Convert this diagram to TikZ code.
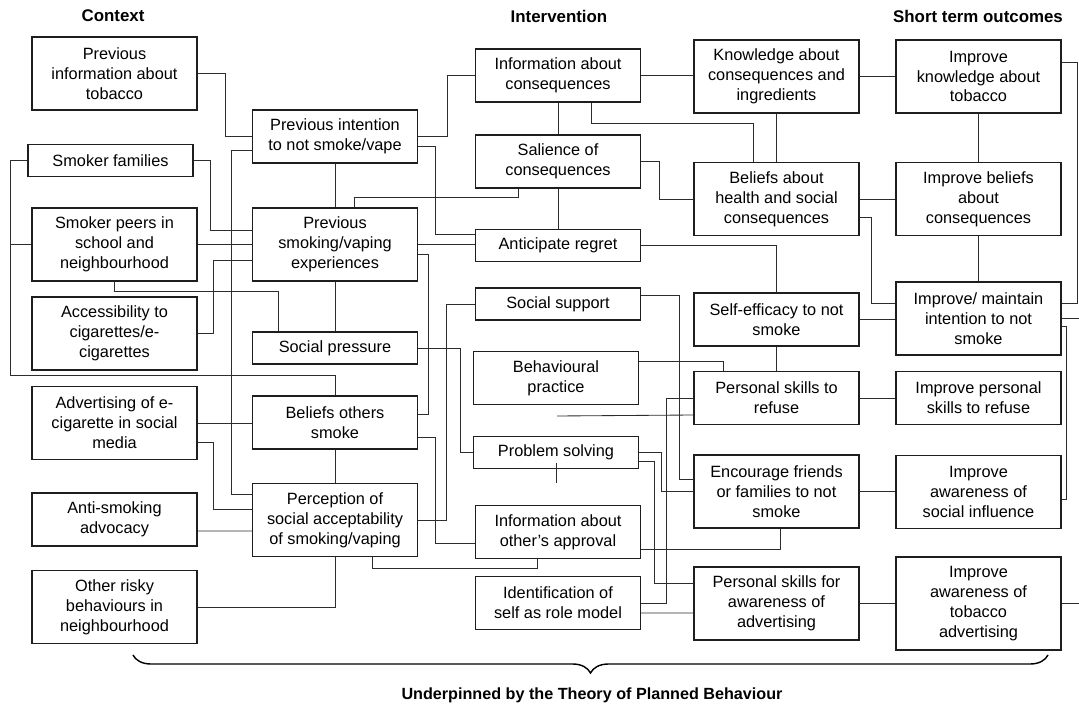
\documentclass[tikz,border=0pt]{standalone}
\usepackage{fontspec}
\setmainfont{Liberation Sans}
\usepackage{tikz}
\usetikzlibrary{calc,decorations.pathreplacing}
\usepackage{xcolor}
\definecolor{boxline}{RGB}{30,30,30}
\definecolor{linkgray}{RGB}{45,45,45}
\newcommand\boxfont{\fontsize{11.6}{14.2}\selectfont}
\newcommand\headfont{\fontsize{12}{14}\selectfont\bfseries}

\begin{document}
\begin{tikzpicture}[
        x=0.025cm, y=-0.025cm,
        box/.style={draw=boxline, line width=0.9pt, align=center, minimum width=4.125cm, inner sep=2pt, font=\boxfont},
        oneline/.style={box, minimum height=0.8cm},
        twoline/.style={box, minimum height=1.325cm},
        threeline/.style={box, minimum height=1.825cm},
        fourline/.style={box, minimum height=2.325cm},
        link/.style={draw=linkgray, line width=0.6pt},
        head/.style={font=\headfont}
    ]
        \useasboundingbox (0,0) rectangle (1079,708);

        % headings
        \node[head] (hcontext) at (113,16) {Context};
        \node[head] (hinterv) at (559,16) {Intervention};
        \node[head] (houtcome) at (978,16) {Short term outcomes};

        % context
        \node[threeline] (previnfo) at (114.5,73.5) {Previous\\information about\\tobacco};
        \node[oneline] (smokerfam) at (110.5,160.5) {Smoker families};
        \node[threeline] (smokerpeers) at (114.5,244.5) {Smoker peers in\\school and\\neighbourhood};
        \node[threeline] (access) at (114.5,333.5) {Accessibility to\\cigarettes/e-\\cigarettes};
        \node[threeline] (advert) at (114.5,423) {Advertising of e-\\cigarette in social\\media};
        \node[twoline] (antismoking) at (114.5,519.5) {Anti-smoking\\advocacy};
        \node[threeline] (otherrisky) at (114.5,607) {Other risky\\behaviours in\\neighbourhood};

        \node[twoline] (prevint) at (335,136.5) {Previous intention\\to not smoke/vape};
        \node[threeline] (prevsmoke) at (335,244.5) {Previous\\smoking/vaping\\experiences};
        \node[oneline] (socpress) at (335,348) {Social pressure};
        \node[twoline] (beliefsothers) at (335,422.5) {Beliefs others\\smoke};
        \node[threeline] (perception) at (335,520) {Perception of\\social acceptability\\of smoking/vaping};

        % intervention
        \node[twoline] (infocons) at (558,75.5) {Information about\\consequences};
        \node[twoline] (salience) at (558,161.5) {Salience of\\consequences};
        \node[oneline] (anticipate) at (558,245.5) {Anticipate regret};
        \node[oneline] (socsupport) at (558,304) {Social support};
        \node[twoline] (behavpractice) at (556,378) {Behavioural\\practice};
        \node[oneline] (probsolve) at (556,452.5) {Problem solving};
        \node[twoline] (infoapproval) at (558,532) {Information about\\other’s approval};
        \node[twoline] (identification) at (558,603) {Identification of\\self as role model};

        \node[threeline] (knowcons) at (776.5,76.5) {Knowledge about\\consequences and\\ingredients};
        \node[threeline] (beliefshealth) at (776.5,199) {Beliefs about\\health and social\\consequences};
        \node[twoline] (selfeff) at (776.5,319.5) {Self-efficacy to not\\smoke};
        \node[twoline] (personalrefuse) at (776.5,398) {Personal skills to\\refuse};
        \node[threeline] (encourage) at (776.5,491.5) {Encourage friends\\or families to not\\smoke};
        \node[threeline] (personaladvert) at (776.5,603.5) {Personal skills for\\awareness of\\advertising};

        % outcomes
        \node[threeline] (improveknow) at (978.5,76.5) {Improve\\knowledge about\\tobacco};
        \node[threeline] (improvebeliefs) at (978.5,199) {Improve beliefs\\about\\consequences};
        \node[threeline] (improveint) at (978.5,318.5) {Improve/ maintain\\intention to not\\smoke};
        \node[twoline] (improveskills) at (978.5,398) {Improve personal\\skills to refuse};
        \node[threeline] (improveaware) at (978.5,492) {Improve\\awareness of\\social influence};
        \node[fourline] (improvetobacco) at (978.5,603.5) {Improve\\awareness of\\tobacco\\advertising};

        % context links
        \draw[link] (previnfo.east) -- ++(28,0) |- (prevint.west);
        \draw[link] ($(prevint.west)+(0,14)$) -- ++(-20,0) |- ($(perception.west)+(0,-26)$);
        \draw[link] (smokerfam.east) -- ++(17,0) |- ($(prevsmoke.west)+(0,-14)$);
        \draw[link] (smokerfam.west) -- ++(-17,0) |- ($(beliefsothers.north)+(0,-20)$) -- (beliefsothers.north);
        \draw[link] (smokerpeers.west) -- ++(-21,0);
        \draw[link] (smokerpeers.east) -- (prevsmoke.west);
        \draw[link] (access.east) -- ++(16,0) |- ($(prevsmoke.west)+(0,15.5)$);
        \draw[link] (smokerpeers.south) -- ++(0,10) -| ($(socpress.north)+(-57,0)$);
        \draw[link] (prevint.south) -- (prevsmoke.north);
        \draw[link] (prevsmoke.south) -- (socpress.north);
        \draw[link] (advert.east) -- (advert.east -| beliefsothers.west);
        \draw[link] ($(advert.east)+(0,19)$) -- ++(16,0) |- ($(perception.west)+(0,-11)$);
        \draw[link] ($(antismoking.east)+(0,11.5)$) -- ($(perception.west)+(0,11)$);
        \draw[link] (otherrisky.east) -| (perception.south);
        \draw[link] (beliefsothers.south) -- (perception.north);

        % links into intervention
        \draw[link] (prevint.east) -- ++(29,0) |- (infocons.west);
        \draw[link] ($(prevint.east)+(0,10)$) -- ++(17,0) |- ($(anticipate.west)+(0,-11)$);
        \draw[link] ($(prevsmoke.north)+(19,0)$) -- ++(0,-10) -| ($(salience.south)+(-40,0)$);
        \draw[link] (prevsmoke.east) -- (prevsmoke.east -| anticipate.west);
        \draw[link] ($(prevsmoke.east)+(0,10)$) -- ++(10,0) |- ($(beliefsothers.east)+(0,-8)$);
        \draw[link] (socpress.east) -- ++(42,0) |- (probsolve.west);
        \draw[link] (socsupport.west) -- ++(-28,0) |- (perception.east);
        \draw[link] ($(beliefsothers.east)+(0,15)$) -- ++(17,0) |- ($(infoapproval.west)+(0,11)$);
        \draw[link] ($(perception.south)+(37,0)$) -- ++(0,11) -| ($(infoapproval.south)+(-21,0)$);

        % intervention links
        \draw[link] (infocons.south) -- (salience.north);
        \draw[link] ($(infocons.south)+(33,0)$) -- ++(0,21) -| ($(beliefshealth.north)+(-23.5,0)$);
        \draw[link] (infocons.east) -- (infocons.east -| knowcons.west);
        \draw[link] (knowcons.south) -- (beliefshealth.north);
        \draw[link] (salience.east) -- ++(18,0) |- (beliefshealth.west);
        \draw[link] (salience.south) -- (anticipate.north);
        \draw[link] (anticipate.east) -| (selfeff.north);
        \draw[link] ($(socsupport.east)+(0,-9)$) -- ++(38,0) |- ($(encourage.west)+(0,-12.5)$);
        \draw[link] (selfeff.south) -- (personalrefuse.north);
        \draw[link] ($(behavpractice.east)+(0,-17)$) -| ($(personalrefuse.north)+(-53.5,0)$);
        \coordinate (stub) at (557,416);
        \draw[link] (stub) -- ($(personalrefuse.west)+(0,17)$);
        \draw[link] ($(probsolve.south)+(0,-6)$) -- ++(0,20);
        \draw[link] (personalrefuse.west) -- ++(-27,0) |- (identification.east);
        \draw[link] (probsolve.east) -- ++(22,0) |- (encourage.west);
        \draw[link] ($(probsolve.east)+(0,8.5)$) -- ++(15,0) |- ($(personaladvert.west)+(0,-20.5)$);
        \draw[link] ($(infoapproval.east)+(0,17)$) -| ($(encourage.south)+(3.5,0)$);
        \draw[link] ($(identification.east)+(0,10)$) -- ($(personaladvert.west)+(0,9.5)$);

        % links into outcomes
        \draw[link] (knowcons.east) -- (improveknow.west);
        \draw[link] (beliefshealth.east) -- (improvebeliefs.west);
        \draw[link] ($(beliefshealth.east)+(0,18)$) -- ++(12,0) |- ($(improveint.west)+(0,-15.5)$);
        \draw[link] (selfeff.east) -- (selfeff.east -| improveint.west);
        \draw[link] (personalrefuse.east) -- (improveskills.west);
        \draw[link] (encourage.east) -- (encourage.east -| improveaware.west);
        \draw[link] (personaladvert.east) -- (improvetobacco.west);
        \draw[link] (improveknow.south) -- (improvebeliefs.north);
        \draw[link] (improvebeliefs.south) -- (improveint.north);
        \draw[link] ($(improveknow.east)+(0,-14.5)$) -- ++(16,0) |- ($(improveint.east)+(0,-15.5)$);
        \draw[link] (improveint.east) -- ++(18,0);
        \draw[link] ($(improveint.east)+(0,7.5)$) -- ++(5,0) |- ($(improveaware.east)+(0,7)$);
        \draw[link] (improvetobacco.east) -- ++(18,0);

        % brace
        \coordinate (braceL) at (133,655);
        \coordinate (braceR) at (1048,655);
        \draw[decorate, decoration={brace, mirror, amplitude=0.45cm}, line width=1pt] (braceL) -- (braceR);
        \node[head, font=\fontsize{11.5}{14}\selectfont\bfseries] (theory) at (592,695) {Underpinned by the Theory of Planned Behaviour};

    \end{tikzpicture}
\end{document}
